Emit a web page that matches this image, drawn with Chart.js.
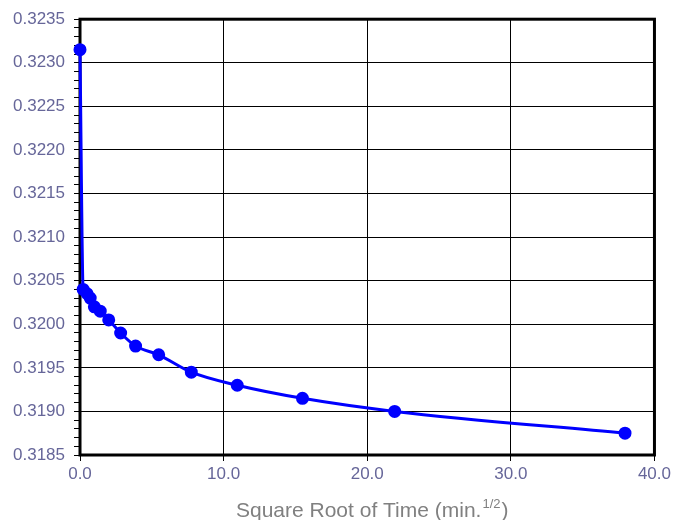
<!DOCTYPE html>
<html>
<head>
<meta charset="utf-8">
<script src="https://cdn.jsdelivr.net/npm/chart.js@4"></script>
<style>
  html, body { margin: 0; padding: 0; background: #fff; }
  #wrap { width: 674px; height: 520px; }
</style>
</head>
<body>
<div id="wrap"><canvas id="chart" width="674" height="520"></canvas></div>
<script>
// sqrt(time) values and the measured value at each
const sqrtTime = [0, 0.22, 0.5, 0.71, 1.0, 1.41, 2.0, 2.83, 3.87, 5.48, 7.75, 10.95, 15.49, 21.91, 37.95];
const values = [0.32315, 0.3204, 0.32035, 0.3203, 0.3202, 0.32015, 0.32005, 0.3199, 0.31975, 0.31965, 0.31945, 0.3193, 0.31915, 0.319, 0.31875];
const xTitle = ['Square Root of Time (min.', '1/2', ')'];

const points = sqrtTime.map((x, i) => ({ x: x, y: values[i] }));

// thick frame round the plot area
const framePlugin = {
  id: 'frame',
  beforeDatasetsDraw(chart) {
    const a = chart.chartArea, c = chart.ctx;
    c.save();
    c.strokeStyle = '#000';
    c.lineWidth = 3;
    c.strokeRect(a.left, a.top, a.right - a.left, a.bottom - a.top);
    c.restore();
  }
};

// x axis title with superscript
const titlePlugin = {
  id: 'xtitle',
  afterDraw(chart) {
    const a = chart.chartArea, c = chart.ctx;
    const big = '21px "Liberation Sans", Arial, sans-serif';
    const small = '13px "Liberation Sans", Arial, sans-serif';
    c.save();
    c.fillStyle = '#808080';
    c.textBaseline = 'alphabetic';
    c.font = big;
    const w1 = c.measureText(xTitle[0]).width;
    const w3 = c.measureText(xTitle[2]).width;
    c.font = small;
    const w2 = c.measureText(xTitle[1]).width;
    let x = (a.left + a.right) / 2 - (w1 + w2 + w3) / 2 + 4;
    const y = 517;
    c.font = big;
    c.fillText(xTitle[0], x, y);
    x += w1;
    c.font = small;
    c.fillText(xTitle[1], x + 1, y - 9);
    x += w2 + 2;
    c.font = big;
    c.fillText(xTitle[2], x, y);
    c.restore();
  }
};

new Chart(document.getElementById('chart').getContext('2d'), {
  type: 'line',
  data: {
    datasets: [{
      data: points,
      borderColor: '#0000ff',
      backgroundColor: '#0000ff',
      borderWidth: 3,
      pointRadius: 5,
      pointHoverRadius: 5,
      pointBackgroundColor: '#0000ff',
      pointBorderColor: '#0000ff',
      cubicInterpolationMode: 'monotone',
      fill: false,
      clip: false
    }]
  },
  options: {
    responsive: false,
    animation: false,
    layout: { padding: { top: 17, right: 19, left: 0, bottom: 0 } },
    plugins: { legend: { display: false }, tooltip: { enabled: false } },
    scales: {
      x: {
        type: 'linear',
        min: 0,
        max: 40,
        afterFit(scale) { scale.height = 65; },
        ticks: {
          stepSize: 10,
          color: '#666699',
          font: { family: '"Liberation Sans", Arial, sans-serif', size: 17 },
          padding: 3,
          callback: v => v.toFixed(1)
        },
        grid: { color: '#000', lineWidth: 1, tickLength: 6, tickColor: '#000' },
        border: { display: false }
      },
      y: {
        min: 0.3185,
        max: 0.3235,
        afterFit(scale) { scale.width = 80; },
        ticks: {
          stepSize: 0.0001,
          autoSkip: false,
          color: '#666699',
          font: { family: '"Liberation Sans", Arial, sans-serif', size: 17 },
          padding: 9,
          callback: v => (Math.round(v * 10000) % 5 === 0 ? v.toFixed(4) : '')
        },
        grid: {
          color: ctx => (Math.round(ctx.tick.value * 10000) % 5 === 0 ? '#000' : 'rgba(0,0,0,0)'),
          lineWidth: 1,
          tickLength: 6,
          tickColor: '#000'
        },
        border: { display: false }
      }
    }
  },
  plugins: [framePlugin, titlePlugin]
});
</script>
</body>
</html>
